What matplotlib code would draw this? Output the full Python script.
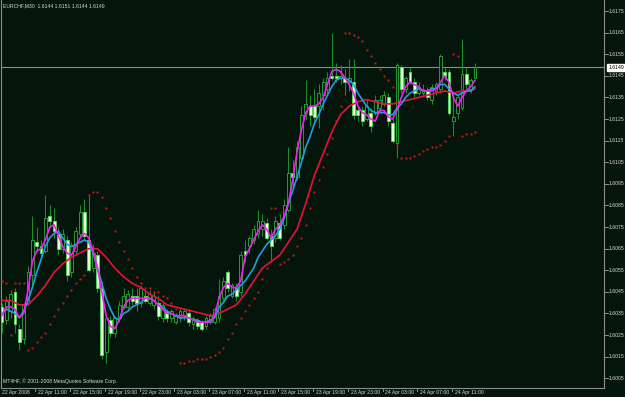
import matplotlib
matplotlib.use('Agg')
import matplotlib.pyplot as plt
from matplotlib.patches import Rectangle

plt.rcParams['font.family'] = ['Liberation Sans', 'DejaVu Sans']

symbol_info = "EURCHF,M30  1.6144 1.6151 1.6144 1.6149"
footer = "MT4HF, \u00a9 2001-2008 MetaQuotes Software Corp."

opens = [1.6038, 1.6032, 1.6036, 1.6045, 1.6028, 1.6023, 1.6040, 1.6053, 1.6068, 1.6066,
         1.6064, 1.6080, 1.6078, 1.6072, 1.6065, 1.6069, 1.6054, 1.6064, 1.6072, 1.6082,
         1.6069, 1.6056, 1.6062, 1.6047, 1.6017, 1.6032, 1.6026, 1.6033, 1.6038, 1.6038,
         1.6043, 1.6043, 1.6040, 1.6043, 1.6040, 1.6039, 1.6040, 1.6033, 1.6036, 1.6033,
         1.6031, 1.6033, 1.6034, 1.6035, 1.6030, 1.6032, 1.6031, 1.6029, 1.6031, 1.6031,
         1.6033, 1.6042, 1.6054, 1.6043, 1.6047, 1.6045, 1.6064, 1.6066, 1.6069, 1.6072,
         1.6074, 1.6077, 1.6071, 1.6070, 1.6077, 1.6076, 1.6083, 1.6100, 1.6098, 1.6107,
         1.6128, 1.6131, 1.6131, 1.6131, 1.6136, 1.6139, 1.6145, 1.6145, 1.6144, 1.6144,
         1.6142, 1.6142, 1.6129, 1.6129, 1.6125, 1.6128, 1.6128, 1.6130, 1.6132, 1.6135,
         1.6123, 1.6114, 1.6149, 1.6139, 1.6147, 1.6142, 1.6137, 1.6137, 1.6138, 1.6134,
         1.6138, 1.6139, 1.6147, 1.6147, 1.6124, 1.6128, 1.6130, 1.6146, 1.6139, 1.6144]
highs = [1.6040, 1.6043, 1.6046, 1.6047, 1.6030, 1.6040, 1.6057, 1.6080, 1.6075, 1.6069,
         1.6090, 1.6085, 1.6084, 1.6075, 1.6074, 1.6071, 1.6068, 1.6075, 1.6085, 1.6088,
         1.6090, 1.6067, 1.6064, 1.6050, 1.6034, 1.6034, 1.6034, 1.6041, 1.6047, 1.6046,
         1.6047, 1.6047, 1.6048, 1.6046, 1.6046, 1.6045, 1.6043, 1.6040, 1.6037, 1.6037,
         1.6035, 1.6037, 1.6037, 1.6037, 1.6034, 1.6033, 1.6032, 1.6034, 1.6035, 1.6038,
         1.6051, 1.6052, 1.6055, 1.6049, 1.6049, 1.6064, 1.6069, 1.6071, 1.6076, 1.6083,
         1.6081, 1.6079, 1.6074, 1.6080, 1.6081, 1.6088, 1.6112, 1.6106, 1.6115, 1.6131,
         1.6143, 1.6136, 1.6139, 1.6141, 1.6144, 1.6147, 1.6165, 1.6151, 1.6150, 1.6148,
         1.6153, 1.6153, 1.6131, 1.6131, 1.6134, 1.6130, 1.6136, 1.6136, 1.6138, 1.6137,
         1.6125, 1.6151, 1.6150, 1.6145, 1.6149, 1.6144, 1.6142, 1.6141, 1.6140, 1.6141,
         1.6142, 1.6155, 1.6149, 1.6148, 1.6137, 1.6136, 1.6162, 1.6149, 1.6144, 1.6151]
lows = [1.6026, 1.6030, 1.6033, 1.6026, 1.6018, 1.6021, 1.6039, 1.6048, 1.6064, 1.6061,
        1.6063, 1.6075, 1.6070, 1.6062, 1.6063, 1.6050, 1.6052, 1.6062, 1.6070, 1.6069,
        1.6054, 1.6054, 1.6045, 1.6014, 1.6012, 1.6024, 1.6024, 1.6031, 1.6037, 1.6037,
        1.6039, 1.6036, 1.6038, 1.6040, 1.6039, 1.6037, 1.6032, 1.6031, 1.6031, 1.6031,
        1.6030, 1.6031, 1.6032, 1.6029, 1.6028, 1.6028, 1.6027, 1.6028, 1.6030, 1.6030,
        1.6031, 1.6041, 1.6045, 1.6042, 1.6041, 1.6043, 1.6059, 1.6063, 1.6067, 1.6070,
        1.6071, 1.6069, 1.6059, 1.6068, 1.6069, 1.6074, 1.6082, 1.6094, 1.6097, 1.6105,
        1.6125, 1.6122, 1.6124, 1.6121, 1.6129, 1.6136, 1.6143, 1.6142, 1.6141, 1.6136,
        1.6138, 1.6125, 1.6124, 1.6122, 1.6124, 1.6119, 1.6127, 1.6128, 1.6131, 1.6122,
        1.6114, 1.6107, 1.6137, 1.6137, 1.6141, 1.6135, 1.6136, 1.6136, 1.6134, 1.6132,
        1.6136, 1.6137, 1.6143, 1.6127, 1.6117, 1.6125, 1.6129, 1.6139, 1.6137, 1.6144]
closes = [1.6031, 1.6041, 1.6044, 1.6030, 1.6022, 1.6039, 1.6054, 1.6069, 1.6066, 1.6063,
          1.6079, 1.6078, 1.6073, 1.6065, 1.6072, 1.6053, 1.6066, 1.6073, 1.6082, 1.6071,
          1.6055, 1.6063, 1.6047, 1.6016, 1.6033, 1.6026, 1.6033, 1.6039, 1.6043, 1.6044,
          1.6041, 1.6040, 1.6047, 1.6041, 1.6044, 1.6043, 1.6034, 1.6039, 1.6033, 1.6036,
          1.6034, 1.6036, 1.6036, 1.6031, 1.6033, 1.6029, 1.6028, 1.6033, 1.6034, 1.6037,
          1.6043, 1.6050, 1.6047, 1.6048, 1.6043, 1.6062, 1.6062, 1.6070, 1.6074, 1.6078,
          1.6078, 1.6070, 1.6066, 1.6078, 1.6070, 1.6085, 1.6100, 1.6098, 1.6112, 1.6127,
          1.6132, 1.6127, 1.6126, 1.6137, 1.6142, 1.6144, 1.6144, 1.6144, 1.6145, 1.6142,
          1.6144, 1.6127, 1.6127, 1.6124, 1.6131, 1.6122, 1.6134, 1.6134, 1.6136, 1.6124,
          1.6115, 1.6150, 1.6139, 1.6144, 1.6142, 1.6137, 1.6140, 1.6139, 1.6135, 1.6140,
          1.6141, 1.6154, 1.6145, 1.6128, 1.6126, 1.6135, 1.6146, 1.6141, 1.6143, 1.6149]

ma_fast = [1.6034, 1.6038, 1.6038, 1.6037, 1.6033, 1.6035, 1.6046, 1.6059, 1.6064, 1.6065,
           1.6069, 1.6075, 1.6076, 1.6071, 1.6066, 1.6063, 1.6062, 1.6066, 1.6070, 1.6072,
           1.6070, 1.6064, 1.6056, 1.6045, 1.6034, 1.6029, 1.6028, 1.6032, 1.6038, 1.6041,
           1.6042, 1.6042, 1.6042, 1.6042, 1.6042, 1.6041, 1.6039, 1.6037, 1.6035, 1.6035,
           1.6034, 1.6034, 1.6034, 1.6033, 1.6032, 1.6031, 1.6031, 1.6031, 1.6031, 1.6034,
           1.6042, 1.6047, 1.6049, 1.6047, 1.6047, 1.6050, 1.6061, 1.6065, 1.6069, 1.6073,
           1.6076, 1.6074, 1.6070, 1.6074, 1.6076, 1.6080, 1.6086, 1.6097, 1.6110, 1.6120,
           1.6128, 1.6131, 1.6131, 1.6132, 1.6135, 1.6141, 1.6147, 1.6148, 1.6147, 1.6144,
           1.6141, 1.6137, 1.6131, 1.6128, 1.6127, 1.6125, 1.6124, 1.6129, 1.6129, 1.6126,
           1.6125, 1.6129, 1.6135, 1.6140, 1.6142, 1.6141, 1.6140, 1.6138, 1.6138, 1.6138,
           1.6139, 1.6142, 1.6145, 1.6142, 1.6135, 1.6131, 1.6135, 1.6138, 1.6140, 1.6143]
ma_mid = [1.6035, 1.6037, 1.6036, 1.6035, 1.6033, 1.6036, 1.6041, 1.6047, 1.6054, 1.6060,
          1.6066, 1.6070, 1.6072, 1.6073, 1.6070, 1.6067, 1.6066, 1.6067, 1.6068, 1.6069,
          1.6068, 1.6063, 1.6056, 1.6049, 1.6042, 1.6037, 1.6033, 1.6032, 1.6035, 1.6036,
          1.6038, 1.6039, 1.6040, 1.6042, 1.6042, 1.6041, 1.6039, 1.6038, 1.6036, 1.6035,
          1.6034, 1.6033, 1.6033, 1.6033, 1.6032, 1.6032, 1.6031, 1.6031, 1.6032, 1.6033,
          1.6038, 1.6040, 1.6043, 1.6044, 1.6046, 1.6048, 1.6050, 1.6053, 1.6056, 1.6061,
          1.6064, 1.6067, 1.6069, 1.6071, 1.6074, 1.6079, 1.6086, 1.6092, 1.6098, 1.6105,
          1.6112, 1.6117, 1.6123, 1.6127, 1.6132, 1.6136, 1.6140, 1.6143, 1.6144, 1.6144,
          1.6143, 1.6141, 1.6137, 1.6134, 1.6131, 1.6129, 1.6128, 1.6128, 1.6128, 1.6127,
          1.6127, 1.6130, 1.6132, 1.6135, 1.6137, 1.6138, 1.6139, 1.6138, 1.6138, 1.6139,
          1.6139, 1.6141, 1.6141, 1.6139, 1.6137, 1.6136, 1.6137, 1.6138, 1.6138, 1.6140]
ma_slow_bars = list(range(0, 110, 2)) + [109]
ma_slow = [1.6041, 1.6041, 1.6039, 1.6039, 1.6043, 1.6048, 1.6054, 1.6058, 1.6061, 1.6063,
           1.6065, 1.6065, 1.6061, 1.6056, 1.6052, 1.6049, 1.6047, 1.6044, 1.6042, 1.6039,
           1.6038, 1.6037, 1.6036, 1.6035, 1.6034, 1.6035, 1.6037, 1.6039, 1.6044, 1.6050,
           1.6056, 1.6059, 1.6062, 1.6068, 1.6074, 1.6086, 1.6099, 1.6109, 1.6119, 1.6127,
           1.6131, 1.6133, 1.6134, 1.6133, 1.6132, 1.6132, 1.6133, 1.6134, 1.6135, 1.6136,
           1.6137, 1.6138, 1.6137, 1.6138, 1.6138, 1.6139]
sar = [1.6050, 1.6049, 1.6025, 1.6049, 1.6049, 1.6049, 1.6018, 1.6019, 1.6022, 1.6024,
       1.6026, 1.6030, 1.6034, 1.6037, 1.6040, 1.6043, 1.6046, 1.6049, 1.6051, 1.6053,
       1.6090, 1.6091, 1.6091, 1.6089, 1.6084, 1.6079, 1.6073, 1.6068, 1.6064, 1.6060,
       1.6056, 1.6052, 1.6049, 1.6047, 1.6047, 1.6045, 1.6045, 1.6043, 1.6042, 1.6040,
       1.6037, 1.6012, 1.6012, 1.6013, 1.6013, 1.6014, 1.6014, 1.6014, 1.6015, 1.6016,
       1.6017, 1.6019, 1.6023, 1.6026, 1.6030, 1.6033, 1.6036, 1.6039, 1.6042, 1.6045,
       1.6051, 1.6056, 1.6084, 1.6084, 1.6058, 1.6059, 1.6060, 1.6062, 1.6066, 1.6070,
       1.6076, 1.6084, 1.6091, 1.6097, 1.6103, 1.6109, 1.6116, 1.6124, 1.6131, 1.6165,
       1.6165, 1.6164, 1.6163, 1.6161, 1.6157, 1.6154, 1.6151, 1.6148, 1.6145, 1.6143,
       1.6140, 1.6113, 1.6107, 1.6107, 1.6107, 1.6108, 1.6109, 1.6110, 1.6111, 1.6112,
       1.6112, 1.6113, 1.6115, 1.6117, 1.6155, 1.6154, 1.6117, 1.6118, 1.6118, 1.6119]

time_tick_bars = [0, 8, 16, 24, 32, 40, 48, 56, 64, 72, 80, 88, 96, 104]
time_tick_labels = ["22 Apr 2008", "22 Apr 11:00", "22 Apr 15:00", "22 Apr 19:00",
                    "22 Apr 23:00", "23 Apr 03:00", "23 Apr 07:00", "23 Apr 11:00",
                    "23 Apr 15:00", "23 Apr 19:00", "23 Apr 23:00", "24 Apr 03:00",
                    "24 Apr 07:00", "24 Apr 11:00"]
price_ticks = [1.6175, 1.6165, 1.6155, 1.6145, 1.6135, 1.6125, 1.6115, 1.6105, 1.6095,
               1.6085, 1.6075, 1.6065, 1.6055, 1.6045, 1.6035, 1.6025, 1.6015, 1.6005]
current_price = 1.6149

BG = '#04160b'
GRID = '#8c8c8c'
TXT = '#d8d8d8'
WICK = '#1f8c2c'
BULL_EDGE = '#2a9a36'
BEAR_FACE = '#e4ffd8'
BEAR_EDGE = '#58d058'

W, H = 625, 397
fig = plt.figure(figsize=(W / 100, H / 100), dpi=100, facecolor=BG)
ax = fig.add_axes([1 / W, 9 / H, 603 / W, 388 / H])
ax.set_facecolor(BG)
ax.set_xlim(-0.23, 138.71)
ax.set_ylim(1.60005, 1.61801)

ax.spines['top'].set_visible(False)
for s in ['left', 'right', 'bottom']:
    ax.spines[s].set_color(GRID)
    ax.spines[s].set_linewidth(0.8)

ax.set_xticks([])
ax.set_yticks([])

bw = 0.66
for i, (o, h, l, c) in enumerate(zip(opens, highs, lows, closes)):
    ax.vlines(i, l, h, color=WICK, lw=0.75, zorder=2)
    bottom = min(o, c)
    height = abs(c - o)
    if c >= o:
        ax.add_patch(Rectangle((i - bw / 2, bottom), bw, max(height, 1e-6),
                               facecolor=BG, edgecolor=BULL_EDGE, lw=0.7, zorder=3))
    else:
        ax.add_patch(Rectangle((i - bw / 2, bottom), bw, max(height, 1e-6),
                               facecolor=BEAR_FACE, edgecolor=BEAR_EDGE, lw=0.7, zorder=3))

bars = list(range(len(closes)))
ax.plot(ma_slow_bars, ma_slow, color='#e8103c', lw=1.2, zorder=4, solid_capstyle='round')
ax.plot(bars, ma_mid, color='#1ea0dc', lw=1.2, zorder=5, solid_capstyle='round')
ax.plot(bars, ma_fast, color='#f020f0', lw=1.2, zorder=6, solid_capstyle='round')
ax.plot(bars, sar, linestyle='none', marker='s', ms=1.4, color='#d01818', mew=0, zorder=7)

ax.axhline(current_price, color=GRID, lw=0.8, zorder=1)

fs = 3.7
ytr = ax.get_yaxis_transform()
xtr = ax.get_xaxis_transform()
for p in price_ticks:
    ax.plot([1.0, 1.006], [p, p], transform=ytr, color=GRID, lw=0.7, clip_on=False)
    ax.text(1.008, p, f"{p:.4f}", transform=ytr, color=TXT,
            fontsize=fs, va='center', ha='left', clip_on=False)
ax.text(1.0075, current_price, f"{current_price:.4f}", transform=ytr,
        color='black', fontsize=fs, va='center', ha='left', clip_on=False,
        bbox=dict(boxstyle='square,pad=0.2', facecolor='white', edgecolor='white'))

for b, lab in zip(time_tick_bars, time_tick_labels):
    if b > 0:
        ax.plot([b - 0.3, b - 0.3], [0, -0.008], transform=xtr,
                color=GRID, lw=0.7, clip_on=False)
    ax.text(b + 0.35 if b > 0 else -0.05, -0.0125, lab, transform=xtr,
            color=TXT, fontsize=fs, va='center', ha='left', clip_on=False)

ax.text(0.004, 0.985, symbol_info, transform=ax.transAxes, color=TXT, fontsize=fs,
        va='center', ha='left')
ax.text(0.004, 0.018, footer, transform=ax.transAxes, color=TXT, fontsize=fs,
        va='center', ha='left')

fig.savefig('out.png', dpi=100, facecolor=BG)
